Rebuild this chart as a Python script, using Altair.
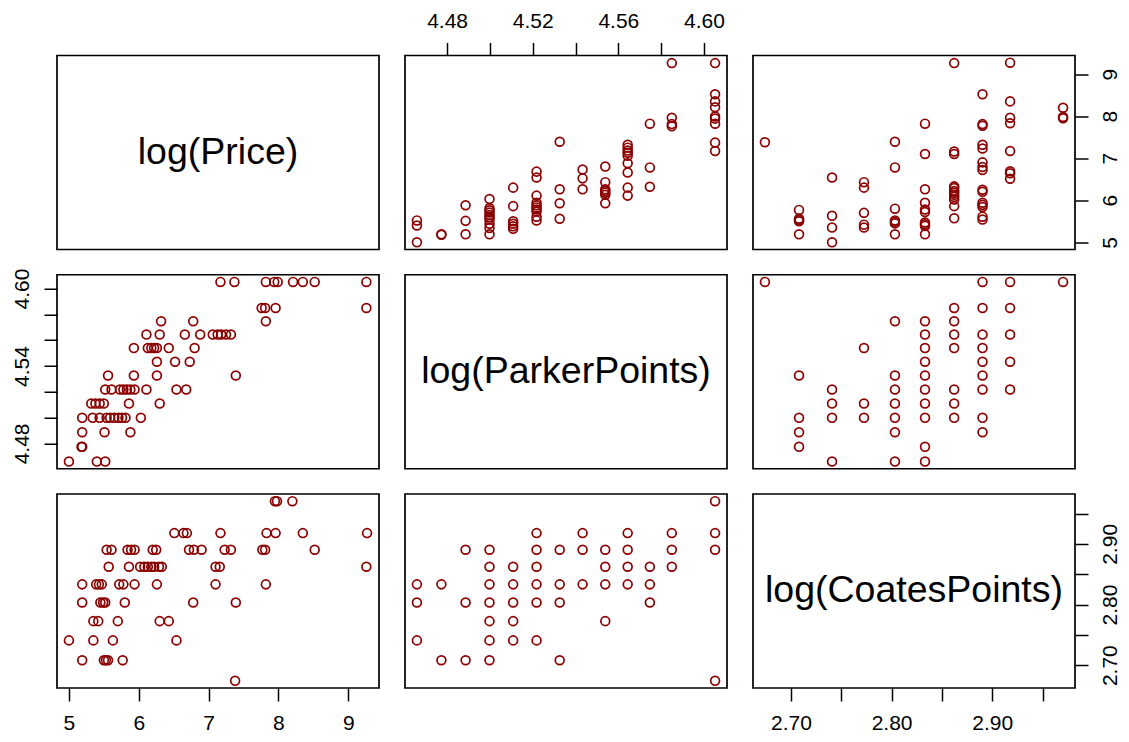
import altair as alt
import numpy as np
import pandas as pd

FONT = "Liberation Sans"
RED = "#8B0000"

# ---- Parker points (raw) with log(Price) ----
pp_parker = [87, 87, 87,
             88, 88,
             89, 89, 89,
             90, 90, 90, 90, 90, 90, 90, 90, 90, 90,
             91, 91, 91, 91, 91, 91,
             92, 92, 92, 92, 92, 92, 92, 92, 92, 92,
             93, 93, 93, 93,
             94, 94, 94,
             95, 95, 95, 95, 95, 95, 95,
             96, 96, 96, 96, 96, 96, 96, 96, 96,
             97, 97, 97,
             98, 98, 98, 98,
             100, 100, 100, 100, 100, 100, 100, 100, 100]
pp_logprice = [5.00, 5.40, 5.52,
               5.18, 5.19,
               5.19, 5.51, 5.88,
               5.19, 5.34, 5.44, 5.54, 5.59, 5.65, 5.71, 5.76, 5.81, 6.03,
               5.32, 5.38, 5.44, 5.50, 5.86, 6.30,
               5.52, 5.61, 5.73, 5.78, 5.83, 5.88, 5.94, 6.11, 6.54, 6.68,
               5.56, 5.93, 6.26, 7.39,
               6.26, 6.52, 6.73,
               5.93, 6.13, 6.18, 6.22, 6.26, 6.43, 6.80,
               6.11, 6.30, 6.66, 6.88, 7.06, 7.13, 7.18, 7.25, 7.32,
               6.32, 6.78, 7.82,
               7.76, 7.81, 7.96, 9.26,
               7.17, 7.37, 7.82, 7.94, 7.99, 8.21, 8.35, 8.52, 9.26]

# ---- Coates points (raw) with log(Price) ----
cp_coates = [14.5,
             15, 15, 15, 15, 15,
             15.5, 15.5, 15.5, 15.5,
             16, 16, 16, 16, 16,
             16.5, 16.5, 16.5, 16.5, 16.5, 16.5, 16.5,
             17, 17, 17, 17, 17, 17, 17, 17, 17, 17,
             17.5, 17.5, 17.5, 17.5, 17.5, 17.5, 17.5, 17.5, 17.5, 17.5, 17.5, 17.5,
             18, 18, 18, 18, 18, 18, 18, 18, 18, 18, 18, 18, 18, 18, 18,
             18.5, 18.5, 18.5, 18.5, 18.5, 18.5, 18.5, 18.5,
             19.5, 19.5, 19.5]
cp_logprice = [7.38,
               5.19, 5.50, 5.53, 5.56, 5.77,
               5.00, 5.35, 5.63, 6.54,
               5.35, 5.42, 5.70, 6.30, 6.43,
               5.19, 5.45, 5.49, 5.52, 5.80, 6.78, 7.39,
               5.19, 5.39, 5.43, 5.47, 5.72, 5.78, 5.94, 6.26, 7.10, 7.82,
               5.57, 5.86, 6.02, 6.08, 6.13, 6.18, 6.22, 6.29, 6.33, 7.10, 7.16, 9.26,
               5.54, 5.61, 5.84, 5.89, 5.94, 6.20, 6.25, 6.72, 6.79, 6.90, 7.23, 7.32, 7.77, 7.81, 8.52,
               6.51, 6.64, 6.69, 7.17, 7.83, 7.96, 8.35, 9.27,
               7.95, 7.98, 8.20]

# ---- Parker points vs Coates points (raw) ----
pc_parker = [100,
             92, 94, 96, 98, 100,
             89, 90, 92, 93, 94, 95, 96, 98, 100,
             90, 91, 92, 95, 96, 97, 98,
             87, 88, 90, 91, 92, 93, 94, 95, 96, 97,
             87, 89, 90, 91, 92, 93, 97,
             90, 91, 95,
             87, 90, 91, 92,
             88, 89, 90, 93,
             100]
pc_coates = [19.5,
             18.5, 18.5, 18.5, 18.5, 18.5,
             18, 18, 18, 18, 18, 18, 18, 18, 18,
             17.5, 17.5, 17.5, 17.5, 17.5, 17.5, 17.5,
             17, 17, 17, 17, 17, 17, 17, 17, 17, 17,
             16.5, 16.5, 16.5, 16.5, 16.5, 16.5, 16.5,
             16, 16, 16,
             15.5, 15.5, 15.5, 15.5,
             15, 15, 15, 15,
             14.5]

var_labels = ["log(Price)", "log(ParkerPoints)", "log(CoatesPoints)"]
price_ticks = [5, 6, 7, 8, 9]
parker_ticks = [4.48, 4.50, 4.52, 4.54, 4.56, 4.58, 4.60]
coates_ticks = [2.70, 2.75, 2.80, 2.85, 2.90, 2.95]
parker_top_labels = [4.48, 4.52, 4.56, 4.60]
parker_left_labels = [4.48, 4.54, 4.60]
coates_labels = [2.70, 2.80, 2.90]

df_pp = pd.DataFrame({"parker": np.log(pp_parker), "price": pp_logprice})
df_cp = pd.DataFrame({"coates": np.log(cp_coates), "price": cp_logprice})
df_pc = pd.DataFrame({"parker": np.log(pc_parker), "coates": np.log(pc_coates)})


def rdom(vals):
    lo, hi = float(min(vals)), float(max(vals))
    pad = 0.04 * (hi - lo)
    return [lo - pad, hi + pad]


DOM = {
    "price": rdom(list(pp_logprice) + list(cp_logprice)),
    "parker": rdom(list(np.log(pp_parker)) + list(np.log(pc_parker))),
    "coates": rdom(list(np.log(cp_coates)) + list(np.log(pc_coates))),
}

W, H = 322, 194
TICK = 13
LABEL_SIZE = 21


def lab_expr(keep, fmt):
    ints = ",".join(str(int(round(v * 100))) for v in keep)
    return f"indexof([{ints}], round(datum.value*100)) >= 0 ? format(datum.value, '{fmt}') : ''"


def make_axis(orient, values, expr=None, fmt=None):
    kw = dict(orient=orient, values=values, domain=False, grid=False,
              tickSize=TICK, tickWidth=1.5, tickColor="black",
              labelFontSize=LABEL_SIZE, labelFont=FONT, labelColor="black",
              labelFlush=False, labelOverlap=False, labelBaseline="alphabetic",
              labelAlign="center")
    kw["labelAngle"] = 270 if orient in ("left", "right") else 0
    kw["labelPadding"] = {"top": 15, "bottom": 28, "left": 15.5, "right": 28}[orient]
    if expr is not None:
        kw["labelExpr"] = expr
    if fmt is not None:
        kw["format"] = fmt
    return alt.Axis(**kw)


AX = {
    ("parker", "top"): make_axis("top", parker_ticks, expr=lab_expr(parker_top_labels, ".2f")),
    ("parker", "left"): make_axis("left", parker_ticks, expr=lab_expr(parker_left_labels, ".2f")),
    ("price", "right"): make_axis("right", price_ticks, fmt="d"),
    ("price", "bottom"): make_axis("bottom", price_ticks, fmt="d"),
    ("coates", "bottom"): make_axis("bottom", coates_ticks, expr=lab_expr(coates_labels, ".2f")),
    ("coates", "right"): make_axis("right", coates_ticks, expr=lab_expr(coates_labels, ".2f")),
}


def xenc(field, axis_key=None):
    ax = AX[axis_key] if axis_key else None
    return alt.X(f"{field}:Q", title=None,
                 scale=alt.Scale(domain=DOM[field], zero=False, nice=False), axis=ax)


def yenc(field, axis_key=None):
    ax = AX[axis_key] if axis_key else None
    return alt.Y(f"{field}:Q", title=None,
                 scale=alt.Scale(domain=DOM[field], zero=False, nice=False), axis=ax)


def scatter(df, xf, yf, xax=None, yax=None):
    return alt.Chart(df).mark_point(
        shape="circle", filled=False, color=RED, size=78, strokeWidth=1.7, opacity=1
    ).encode(x=xenc(xf, xax), y=yenc(yf, yax)).properties(width=W, height=H)


def diag(label, field, xax=None, yax=None):
    lo, hi = DOM[field]
    mid = (lo + hi) / 2
    df = pd.DataFrame({field: [mid], "label": [label]})
    return alt.Chart(df).mark_text(
        fontSize=37.5, font=FONT, color="black", align="center", baseline="middle"
    ).encode(x=xenc(field, xax), y=yenc(field, yax), text="label:N").properties(width=W, height=H)


panels = [
    diag(var_labels[0], "price"),
    scatter(df_pp, "parker", "price", xax=("parker", "top")),
    scatter(df_cp, "coates", "price", yax=("price", "right")),
    scatter(df_pp, "price", "parker", yax=("parker", "left")),
    diag(var_labels[1], "parker"),
    scatter(df_pc, "coates", "parker"),
    scatter(df_cp, "price", "coates", xax=("price", "bottom")),
    scatter(df_pc, "parker", "coates"),
    diag(var_labels[2], "coates", xax=("coates", "bottom"), yax=("coates", "right")),
]

# page area inside the 8px body margin is 1113 x 726
PAD_L, PAD_T = 49, 47.5
chart = alt.concat(*panels, columns=3, spacing={"row": 25.25, "column": 26}, bounds="flush").properties(
    padding={"left": PAD_L, "top": PAD_T, "right": 1113 - PAD_L, "bottom": 726 - PAD_T},
    autosize=alt.AutoSizeParams(type="none"),
    background="white",
).configure_view(stroke="black", strokeWidth=1.7)

chart.save("out.html", embed_options={"renderer": "svg", "actions": False})
